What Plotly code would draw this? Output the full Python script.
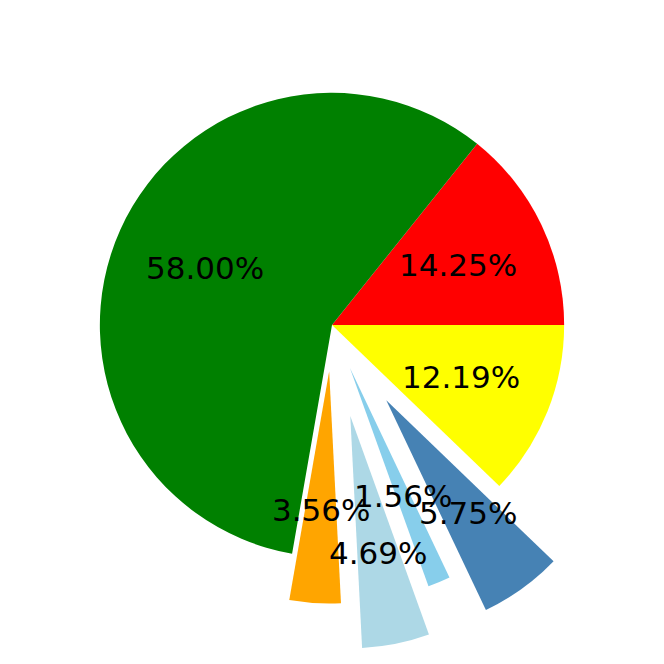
import math
import plotly.graph_objects as go

# slice data, counterclockwise from 3 o'clock
labels = ["A", "B", "C", "D", "E", "F", "G"]
values = [14.25, 58.00, 3.56, 4.69, 1.56, 5.75, 12.19]
colors = ["red", "green", "orange", "lightblue", "skyblue", "steelblue", "yellow"]
pulls = [0, 0, 0.2, 0.4, 0.2, 0.4, 0]

W, H = 664, 664
mar = dict(l=0, r=0, t=0, b=14)
boxw = W - mar["l"] - mar["r"]
boxh = H - mar["t"] - mar["b"]
R = min(boxw, boxh) / (2 * (1 + max(pulls)))
cx = boxw / 2
cy = boxh / 2

total = sum(values)
# plotly puts the first slice clockwise of `rotation` when going counterclockwise,
# so shift by the first slice so it starts at 3 o'clock
rot = 90 - 360 * values[0] / total

fig = go.Figure(go.Pie(
    labels=labels,
    values=values,
    marker=dict(colors=colors, line=dict(width=0)),
    pull=pulls,
    sort=False,
    direction="counterclockwise",
    rotation=rot,
    textinfo="none",
    hoverinfo="label+percent",
    showlegend=False,
))

# percentage labels at 0.6 radius from each (pulled) slice's apex
cum = 0
for v, p in zip(values, pulls):
    theta = math.radians(360 * (cum + v / 2) / total)
    cum += v
    d = (p + 0.6) * R
    px = cx + d * math.cos(theta)
    py = cy + d * math.sin(theta)
    fig.add_annotation(
        x=px / boxw, y=py / boxh, xref="paper", yref="paper",
        text="%.2f%%" % (100 * v / total), showarrow=False,
        font=dict(family="DejaVu Sans", size=31, color="black"),
        xanchor="center", yanchor="middle",
    )

fig.update_layout(
    width=W, height=H,
    margin=mar,
    paper_bgcolor="white",
    plot_bgcolor="white",
)
fig.write_html("out.html", config={"displayModeBar": False},
               post_script="document.body.style.margin='0px';")
